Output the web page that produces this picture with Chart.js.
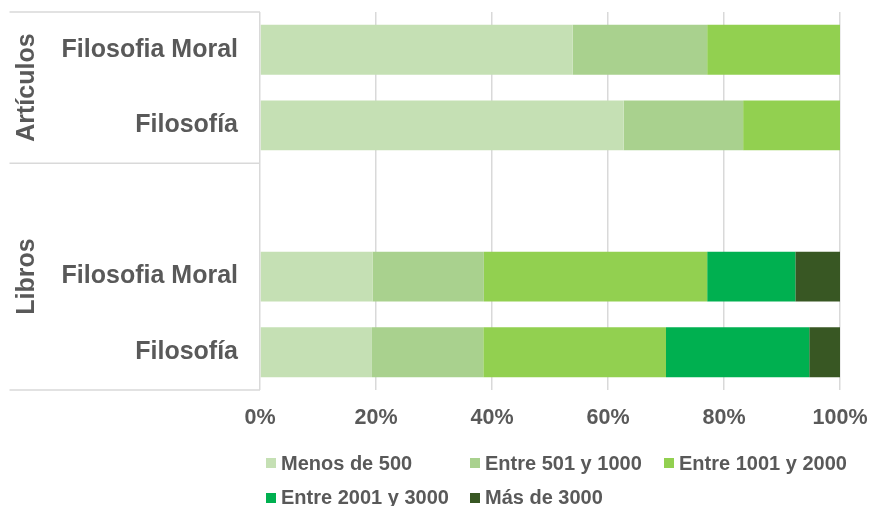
<!DOCTYPE html>
<html>
<head>
<meta charset="utf-8">
<script src="https://cdn.jsdelivr.net/npm/chart.js@4/dist/chart.umd.min.js"></script>
<style>
  html, body { margin: 0; padding: 0; background: #ffffff; }
  #wrap { position: relative; width: 870px; height: 506px; overflow: hidden; }
  #chart { position: absolute; left: 0; top: 0; }
  #legend { position: absolute; left: 266px; top: 451px; display: grid;
    grid-template-columns: 204px 194px auto; row-gap: 10.5px;
    font-family: 'Liberation Sans', Arial, sans-serif; font-weight: bold;
    font-size: 20px; color: #595959; }
  .item { display: flex; align-items: center; height: 24px; white-space: nowrap; }
  .sw { width: 10px; height: 10px; margin-right: 5px; flex: none; }
</style>
</head>
<body>
<div id="wrap">
  <canvas id="chart" width="870" height="506"></canvas>
  <div id="legend"></div>
</div>
<script>
// ---- data ----
const categories = ['Filosofia Moral', 'Filosofía', '', 'Filosofia Moral', 'Filosofía'];
const groupLabels = ['Artículos', 'Libros'];
const groupFirst = [0, 2];
const groupLast = [1, 4];
const seriesNames = ['Menos de 500', 'Entre 501 y 1000', 'Entre 1001 y 2000', 'Entre 2001 y 3000', 'Más de 3000'];
const menos500 = [53.9, 62.7, null, 19.4, 19.3];
const entre501y1000 = [23.2, 20.6, null, 19.2, 19.2];
const entre1001y2000 = [22.9, 16.7, null, 38.5, 31.5];
const entre2001y3000 = [0, 0, null, 15.2, 24.7];
const mas3000 = [0, 0, null, 7.7, 5.3];
const tickLabels = ['0%', '20%', '40%', '60%', '80%', '100%'];

// ---- styles ----
const seriesColors = ['#c5e0b4', '#a9d18e', '#92d050', '#00b050', '#385723'];
const FONT = "'Liberation Sans', Arial, sans-serif";
const TEXT = '#595959';
const LINE = '#d9d9d9';

const seriesValues = [menos500, entre501y1000, entre1001y2000, entre2001y3000, mas3000];

const groupPlugin = {
  id: 'groupAxis',
  afterDraw(chart) {
    const ctx = chart.ctx;
    const y = chart.scales.y;
    const area = chart.chartArea;
    const xLeft = 9.5;
    const boundary = (i) => {
      if (i < 0) return area.top;
      if (i >= categories.length - 1) return area.bottom;
      return (y.getPixelForValue(i) + y.getPixelForValue(i + 1)) / 2;
    };
    ctx.save();
    ctx.strokeStyle = LINE;
    ctx.lineWidth = 1.5;
    const lines = new Set([area.top, area.bottom]);
    groupFirst.forEach((f, g) => { lines.add(boundary(f - 1)); lines.add(boundary(groupLast[g])); });
    lines.forEach((py) => {
      ctx.beginPath();
      ctx.moveTo(xLeft, py);
      ctx.lineTo(area.left, py);
      ctx.stroke();
    });
    ctx.fillStyle = TEXT;
    ctx.font = 'bold 25px ' + FONT;
    ctx.textAlign = 'center';
    ctx.textBaseline = 'alphabetic';
    groupLabels.forEach((lab, g) => {
      const top = boundary(groupFirst[g] - 1);
      const bot = boundary(groupLast[g]);
      ctx.save();
      ctx.translate(34, (top + bot) / 2);
      ctx.rotate(-Math.PI / 2);
      ctx.fillText(lab, 0, 0);
      ctx.restore();
    });
    ctx.restore();
  }
};

const chart = new Chart(document.getElementById('chart'), {
  type: 'bar',
  data: {
    labels: categories,
    datasets: seriesNames.map((name, i) => ({
      label: name,
      data: seriesValues[i],
      backgroundColor: seriesColors[i],
      borderWidth: 0,
      barPercentage: 1,
      categoryPercentage: 0.66
    }))
  },
  options: {
    indexAxis: 'y',
    responsive: false,
    maintainAspectRatio: false,
    animation: false,
    layout: { padding: { top: 12, right: 30, left: 0, bottom: 0 } },
    plugins: { legend: { display: false }, tooltip: { enabled: false } },
    scales: {
      x: {
        stacked: true,
        min: 0,
        max: 100,
        border: { display: false },
        grid: { color: LINE, lineWidth: 1.5, drawTicks: false },
        ticks: {
          stepSize: 20,
          padding: 15,
          color: TEXT,
          font: { family: FONT, size: 21.5, weight: 'bold' },
          callback: (v, i) => tickLabels[i]
        },
        afterFit: (s) => { s.height = 116; s.paddingLeft = 0; s.paddingRight = 0; }
      },
      y: {
        stacked: true,
        border: { display: false },
        grid: { display: false, drawTicks: false },
        ticks: {
          padding: 22,
          color: TEXT,
          font: { family: FONT, size: 25, weight: 'bold' }
        },
        afterFit: (s) => { s.width = 260; s.paddingTop = 0; s.paddingBottom = 0; }
      }
    }
  },
  plugins: [groupPlugin]
});

// HTML legend built from datasets
const legendEl = document.getElementById('legend');
chart.data.datasets.forEach((ds) => {
  const item = document.createElement('div');
  item.className = 'item';
  const sw = document.createElement('span');
  sw.className = 'sw';
  sw.style.background = ds.backgroundColor;
  const tx = document.createElement('span');
  tx.textContent = ds.label;
  item.appendChild(sw);
  item.appendChild(tx);
  legendEl.appendChild(item);
});
</script>
</body>
</html>
